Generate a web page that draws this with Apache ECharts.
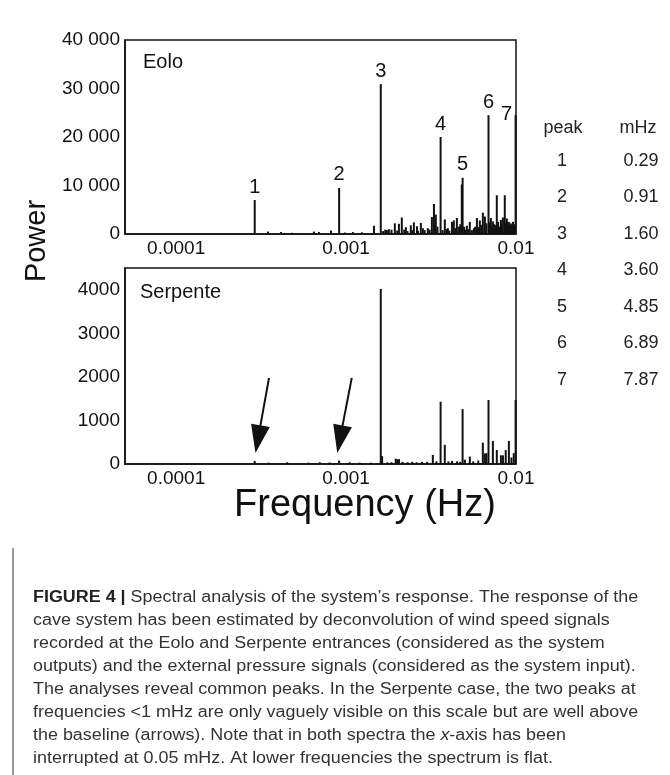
<!DOCTYPE html>
<html>
<head>
<meta charset="utf-8">
<script src="https://cdn.jsdelivr.net/npm/echarts@6/dist/echarts.min.js"></script>
<style>
html,body{margin:0;padding:0;background:#fff;}
#chart{width:670px;height:775px;}
</style>
</head>
<body>
<div id="chart"></div>
<script>
// ---------- DATA ----------
// x tick labels (Hz) and y tick labels
const xTickLabels = ['0.0001', '0.001', '0.01'];
const yTickLabelsEolo = ['0', '10 000', '20 000', '30 000', '40 000'];
const yTickLabelsSerpente = ['0', '1000', '2000', '3000', '4000'];

// labelled peaks (plotted position in mHz, power)
const peakIds = ['1', '2', '3', '4', '5', '6', '7'];
const eoloPeakMHz = [0.29, 0.91, 1.60, 3.60, 4.85, 6.89, 9.95];
const eoloPeakPower = [7000, 9500, 30900, 20000, 11600, 24500, 24500];
const serpentePeakMHz = [0.29, 0.91, 1.60, 3.60, 4.85, 6.89, 9.95];
const serpentePeakPower = [70, 80, 4020, 1430, 1260, 1470, 1470];

// other spectral lines (mHz, power)
const eoloOtherMHz = [0.347, 0.414, 0.48, 0.55, 0.647, 0.692, 0.815, 0.984, 1.096, 1.239, 1.459,
  1.65, 1.70, 1.738, 1.786, 1.85, 1.936, 2.00, 2.046, 2.128, 2.20, 2.249, 2.30, 2.404, 2.45, 2.506, 2.612, 2.65,
  2.754, 2.831, 2.90, 3.027, 3.10, 3.199, 3.289, 3.373, 3.45, 3.70, 3.811, 3.90, 3.972, 4.05, 4.198, 4.305, 4.40,
  4.487, 4.613, 4.70, 4.797, 4.95, 5.05, 5.140, 5.25, 5.346, 5.50, 5.649, 5.75, 5.888, 6.00, 6.124, 6.25, 6.383,
  6.561, 6.70, 7.00, 7.112, 7.20, 7.311, 7.45, 7.60, 7.709, 7.85, 8.00, 8.147, 8.25, 8.375, 8.590, 8.70, 8.831,
  8.95, 9.078, 9.20, 9.30, 9.441, 9.60, 9.75];
const eoloOtherPower = [500, 400, 250, 200, 500, 400, 700, 300, 400, 350, 1700,
  600, 900, 800, 1000, 900, 2200, 700, 2100, 3400, 900, 1400, 600, 1800, 800, 2400, 1600, 700,
  2300, 1200, 800, 1200, 900, 3500, 6200, 4000, 1500, 800, 3000, 1000, 1200, 700, 2500, 2800, 1200,
  3300, 1500, 2000, 10200, 1500, 900, 1700, 1000, 2500, 800, 1200, 1500, 3300, 1400, 2800, 1900, 4400,
  3600, 2200, 2400, 3300, 1500, 2600, 2000, 1800, 8000, 2500, 1500, 2900, 2000, 3400, 8000, 2200, 3200,
  2400, 2500, 1800, 2200, 2000, 2500, 2000];

const serpenteOtherMHz = [0.10, 0.20, 0.35, 0.45, 0.60, 0.70, 0.80, 1.05, 1.20, 1.40,
  1.63, 1.75, 1.85, 1.96, 2.00, 2.05, 2.15, 2.30, 2.45, 2.60, 2.80, 3.00, 3.24, 3.40, 3.81, 4.00, 4.20,
  4.50, 4.70, 5.00, 5.35, 5.60, 6.00, 6.38, 6.56, 6.70, 7.31, 7.71, 8.15, 8.38, 8.70, 9.08, 9.40, 9.70];
const serpenteOtherPower = [15, 20, 30, 40, 30, 40, 35, 40, 30, 30,
  180, 40, 40, 120, 110, 110, 50, 40, 50, 40, 50, 50, 210, 60, 440, 60, 70,
  60, 50, 100, 170, 60, 80, 490, 240, 250, 530, 320, 200, 200, 320, 530, 150, 250];

// arrows in the Serpente panel: [tail Hz, tail power, head Hz, head power]
const serpenteArrows = [
  [0.000352, 1977, 0.000303, 570],
  [0.00108, 1977, 0.00092, 570]
];

// peak table
const tableHeader = ['peak', 'mHz'];
const tableMHz = ['0.29', '0.91', '1.60', '3.60', '4.85', '6.89', '7.87'];

const panelNames = ['Eolo', 'Serpente'];
const xAxisTitle = 'Frequency (Hz)';
const yAxisTitle = 'Power';

const captionLines = [
  '{b|FIGURE 4 |} Spectral analysis of the system\u2019s response. The response of the',
  'cave system has been estimated by deconvolution of wind speed signals',
  'recorded at the Eolo and Serpente entrances (considered as the system',
  'outputs) and the external pressure signals (considered as the system input).',
  'The analyses reveal common peaks. In the Serpente case, the two peaks at',
  'frequencies <1 mHz are only vaguely visible on this scale but are well above',
  'the baseline (arrows). Note that in both spectra the {i|x}-axis has been',
  'interrupted at 0.05 mHz. At lower frequencies the spectrum is flat.'
];

// ---------- BUILD ----------
const FONT = '"Liberation Sans", Arial, Helvetica, sans-serif';

function buildData(pMHz, pPow, oMHz, oPow, labelled) {
  const d = [];
  pMHz.forEach((m, i) => {
    const item = { value: [m / 1000, pPow[i]] };
    if (labelled) {
      item.label = {
        show: true, position: 'top', distance: 3, formatter: peakIds[i],
        fontSize: 20, color: '#111', fontFamily: FONT
      };
      if (i === 6) item.label.offset = [-9, 12];
    }
    d.push(item);
  });
  oMHz.forEach((m, i) => d.push({ value: [m / 1000, oPow[i]] }));
  d.sort((a, b) => a.value[0] - b.value[0]);
  return d;
}

const xLabelFmt = v => {
  const e = Math.round(Math.log10(v));
  return xTickLabels[e + 4] || '';
};

function xAxis(gi) {
  return {
    type: 'log', logBase: 10, gridIndex: gi, min: 0.00005, max: 0.01,
    axisLine: { lineStyle: { color: '#111', width: 1.5 } },
    axisTick: { show: false }, splitLine: { show: false }, minorTick: { show: false },
    axisLabel: { showMinLabel: false, showMaxLabel: true, formatter: xLabelFmt, fontSize: 19, color: '#111',
      margin: 5, fontFamily: FONT }
  };
}

const chart = echarts.init(document.getElementById('chart'), null, { renderer: 'canvas' });

const graphics = [];
graphics.push({ type: 'text', left: 143, top: 52, style: { text: panelNames[0], fill: '#111', font: '20px ' + FONT } });
graphics.push({ type: 'text', left: 140, top: 282, style: { text: panelNames[1], fill: '#111', font: '20px ' + FONT } });
graphics.push({ type: 'text', x: 37, y: 241, rotation: Math.PI / 2,
  style: { text: yAxisTitle, font: '29px ' + FONT, fill: '#111', align: 'center', verticalAlign: 'middle' } });
graphics.push({ type: 'text', x: 365, y: 506,
  style: { text: xAxisTitle, font: '38px ' + FONT, fill: '#111', align: 'center', verticalAlign: 'middle' } });
// table
const TF = '18px ' + FONT;
graphics.push({ type: 'text', x: 563, y: 128, style: { text: tableHeader[0], font: TF, fill: '#222', align: 'center', verticalAlign: 'middle' } });
graphics.push({ type: 'text', x: 638, y: 128, style: { text: tableHeader[1], font: TF, fill: '#222', align: 'center', verticalAlign: 'middle' } });
peakIds.forEach((p, i) => {
  const y = 161 + i * 36.5;
  graphics.push({ type: 'text', x: 562, y: y, style: { text: p, font: TF, fill: '#222', align: 'center', verticalAlign: 'middle' } });
  graphics.push({ type: 'text', x: 641, y: y, style: { text: tableMHz[i], font: TF, fill: '#222', align: 'center', verticalAlign: 'middle' } });
});
// caption
graphics.push({ type: 'text', x: 33, y: 586, scaleX: 1.12, style: {
  text: captionLines.join('\n'), font: '16px ' + FONT, fill: '#333', lineHeight: 23,
  rich: {
    b: { fontWeight: 'bold', fontSize: 16, fill: '#222', fontFamily: FONT, lineHeight: 23 },
    i: { fontStyle: 'italic', fontSize: 16, fill: '#333', fontFamily: FONT, lineHeight: 23 }
  }
} });
graphics.push({ type: 'line', shape: { x1: 13, y1: 548, x2: 13, y2: 775 }, style: { stroke: '#333', lineWidth: 1 } });

const option = {
  backgroundColor: '#fff',
  animation: false,
  textStyle: { fontFamily: FONT },
  grid: [
    { left: 125, top: 40, width: 391, height: 194, show: true, borderColor: '#111', borderWidth: 1.5, backgroundColor: 'transparent' },
    { left: 125, top: 268, width: 391, height: 196, show: true, borderColor: '#111', borderWidth: 1.5, backgroundColor: 'transparent' }
  ],
  xAxis: [xAxis(0), xAxis(1)],
  yAxis: [
    { type: 'value', gridIndex: 0, min: 0, max: 40000, interval: 10000,
      axisLine: { show: true, lineStyle: { color: '#111', width: 1.5 } }, axisTick: { show: false }, splitLine: { show: false },
      axisLabel: { fontSize: 19, color: '#111', margin: 5, fontFamily: FONT,
        formatter: v => yTickLabelsEolo[Math.round(v / 10000)] } },
    { type: 'value', gridIndex: 1, min: 0, max: 4500, interval: 1000,
      axisLine: { show: true, lineStyle: { color: '#111', width: 1.5 } }, axisTick: { show: false }, splitLine: { show: false },
      axisLabel: { fontSize: 19, color: '#111', margin: 5, showMaxLabel: false, fontFamily: FONT,
        formatter: v => (v % 1000 === 0 ? yTickLabelsSerpente[v / 1000] : '') } }
  ],
  series: [
    { type: 'bar', xAxisIndex: 0, yAxisIndex: 0, barWidth: 2, itemStyle: { color: '#111' },
      data: buildData(eoloPeakMHz, eoloPeakPower, eoloOtherMHz, eoloOtherPower, true) },
    { type: 'bar', xAxisIndex: 1, yAxisIndex: 1, barWidth: 2, itemStyle: { color: '#111' },
      data: buildData(serpentePeakMHz, serpentePeakPower, serpenteOtherMHz, serpenteOtherPower, false),
      markLine: {
        silent: true, animation: false,
        symbol: ['none', 'triangle'], symbolSize: [19, 28],
        lineStyle: { color: '#111', width: 2, type: 'solid' },
        label: { show: false },
        data: serpenteArrows.map(a => [{ coord: [a[0], a[1]] }, { coord: [a[2], a[3]] }])
      } }
  ],
  graphic: graphics
};
chart.setOption(option);
</script>
</body>
</html>
